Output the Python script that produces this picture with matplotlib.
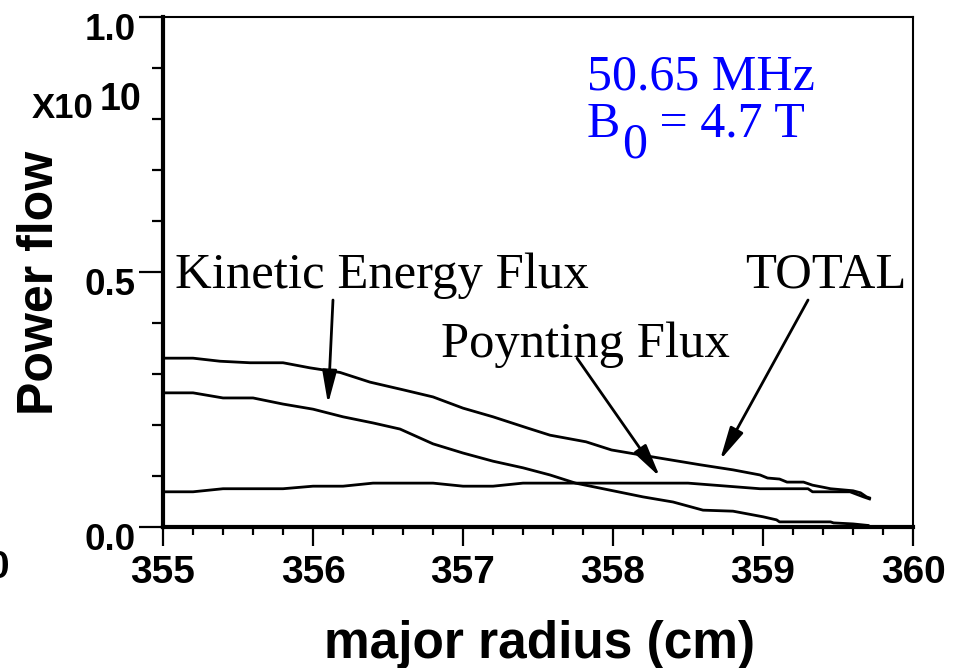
import matplotlib
matplotlib.use("Agg")
import matplotlib.pyplot as plt
from matplotlib.ticker import MultipleLocator, FixedLocator, FixedFormatter
from matplotlib.transforms import ScaledTranslation

# Power flow (units of 1e10) versus major radius (cm)
total_r = [355.0, 355.2, 355.38, 355.58, 355.8, 355.98, 356.18, 356.38, 356.6, 356.8,
           357.0, 357.2, 357.43, 357.58, 357.82, 357.99, 358.19, 358.58, 358.8, 358.98,
           359.03, 359.11, 359.16, 359.27, 359.33, 359.4, 359.45, 359.6, 359.65, 359.69, 359.71]
total_p = [0.331, 0.331, 0.325, 0.322, 0.322, 0.312, 0.303, 0.284, 0.269, 0.255,
           0.233, 0.216, 0.194, 0.180, 0.167, 0.151, 0.141, 0.122, 0.112, 0.102,
           0.096, 0.094, 0.088, 0.088, 0.082, 0.078, 0.075, 0.071, 0.067, 0.059, 0.057]

kinetic_r = [355.0, 355.2, 355.4, 355.6, 355.8, 356.0, 356.2, 356.4, 356.58, 356.8,
             357.0, 357.2, 357.4, 357.58, 357.75, 358.2, 358.4, 358.6, 358.8, 359.0,
             359.09, 359.11, 359.45, 359.47, 359.6, 359.7]
kinetic_p = [0.263, 0.263, 0.253, 0.253, 0.241, 0.231, 0.216, 0.204, 0.192, 0.163,
             0.145, 0.129, 0.116, 0.102, 0.086, 0.059, 0.049, 0.033, 0.031, 0.020,
             0.014, 0.010, 0.010, 0.008, 0.006, 0.003]

poynting_r = [355.0, 355.2, 355.4, 355.8, 356.0, 356.2, 356.4, 356.8, 357.0, 357.2,
              357.4, 358.5, 358.98, 359.3, 359.33, 359.58, 359.67, 359.71]
poynting_p = [0.069, 0.069, 0.075, 0.075, 0.080, 0.080, 0.086, 0.086, 0.080, 0.080,
              0.086, 0.086, 0.075, 0.075, 0.069, 0.069, 0.059, 0.055]

x_ticks = [355, 356, 357, 358, 359, 360]
x_labels = ["355", "356", "357", "358", "359", "360"]
y_ticks = [0.0, 0.5, 1.0]
y_labels = ["0.0", "0.5", "1.0"]

# Curve labels and their arrows: (text, text position, arrow start, arrow tip)
curve_notes = [
    ("Kinetic Energy Flux", (355.08, 0.469), (356.133, 0.445), (356.10, 0.241)),
    ("Poynting Flux", (356.85, 0.333), (357.76, 0.331), (358.313, 0.098)),
    ("TOTAL", (358.88, 0.469), (359.30, 0.445), (358.713, 0.131)),
]

sans = "Liberation Sans"
serif = "Liberation Serif"

fig = plt.figure(figsize=(9.63, 6.68), dpi=100)
ax = fig.add_axes([0.1693, 0.2111, 0.7788, 0.7635])

for r, p in ((total_r, total_p), (kinetic_r, kinetic_p), (poynting_r, poynting_p)):
    ax.plot(r, p, color="black", lw=2.0, solid_joinstyle="round")

ax.set_xlim(355, 360)
ax.set_ylim(0, 1.0)

ax.xaxis.set_major_locator(FixedLocator(x_ticks))
ax.xaxis.set_major_formatter(FixedFormatter(x_labels))
ax.xaxis.set_minor_locator(MultipleLocator(0.2))
ax.yaxis.set_major_locator(FixedLocator(y_ticks))
ax.yaxis.set_major_formatter(FixedFormatter(y_labels))
ax.yaxis.set_minor_locator(MultipleLocator(0.1))

ax.tick_params(axis="x", which="major", direction="out", length=14, width=1.6, pad=6)
ax.tick_params(axis="x", which="minor", direction="out", length=6, width=1.6)
ax.tick_params(axis="y", which="major", direction="out", length=17, width=1.6, pad=3)
ax.tick_params(axis="y", which="minor", direction="out", length=8, width=1.6)

for lab in ax.get_xticklabels():
    lab.set_fontfamily(sans)
    lab.set_fontweight("bold")
    lab.set_fontsize(28)
shift = ScaledTranslation(0, -0.10, fig.dpi_scale_trans)
for lab in ax.get_yticklabels():
    lab.set_fontfamily(sans)
    lab.set_fontweight("bold")
    lab.set_fontsize(26.5)
    lab.set_transform(lab.get_transform() + shift)

ax.spines["left"].set_linewidth(3.0)
ax.spines["bottom"].set_linewidth(3.0)
ax.spines["top"].set_linewidth(1.5)
ax.spines["right"].set_linewidth(1.5)

# Axis titles and scale factor
fig.text(0.0415, 1 - 283 / 668, "Power flow", rotation=90, ha="center", va="center",
         fontsize=36, fontweight="bold", family=sans)
fig.text(0.5607, 1 - 658 / 668, "major radius (cm)", ha="center", va="baseline",
         fontsize=37, fontweight="bold", family=sans)
fig.text(0.0332, 1 - 118 / 668, "X10", ha="left", va="baseline",
         fontsize=25, fontweight="bold", family=sans)
fig.text(0.1038, 1 - 110 / 668, "10", ha="left", va="baseline",
         fontsize=27, fontweight="bold", family=sans)
fig.text(-0.0125, 1 - 578 / 668, "0", ha="left", va="baseline",
         fontsize=28, fontweight="bold", family=sans)

# Curve labels with arrows
for text, pos, start, tip in curve_notes:
    ax.text(pos[0], pos[1], text, ha="left", va="baseline", fontsize=36.5, family=serif)
    ax.annotate("", xy=tip, xytext=start,
                arrowprops=dict(arrowstyle="-|>,head_length=1.0,head_width=0.22",
                                mutation_scale=20, lw=2.0, color="black",
                                shrinkA=0, shrinkB=0))

# Wave frequency and field
ax.text(357.826, 0.857, "50.65 MHz", ha="left", va="baseline", fontsize=36,
        family=serif, color="blue")
b_txt = ax.text(357.826, 0.765, "B", ha="left", va="baseline", fontsize=36,
                family=serif, color="blue")
sub = ax.annotate("0", xy=(1, 0), xycoords=b_txt, xytext=(1.5, -15),
                  textcoords="offset points", ha="left", va="bottom",
                  fontsize=36, family=serif, color="blue")
ax.annotate(" = 4.7 T", xy=(1, 0), xycoords=sub, xytext=(0, 15),
            textcoords="offset points", ha="left", va="bottom",
            fontsize=36, family=serif, color="blue")

fig.savefig("out.png", dpi=100)
